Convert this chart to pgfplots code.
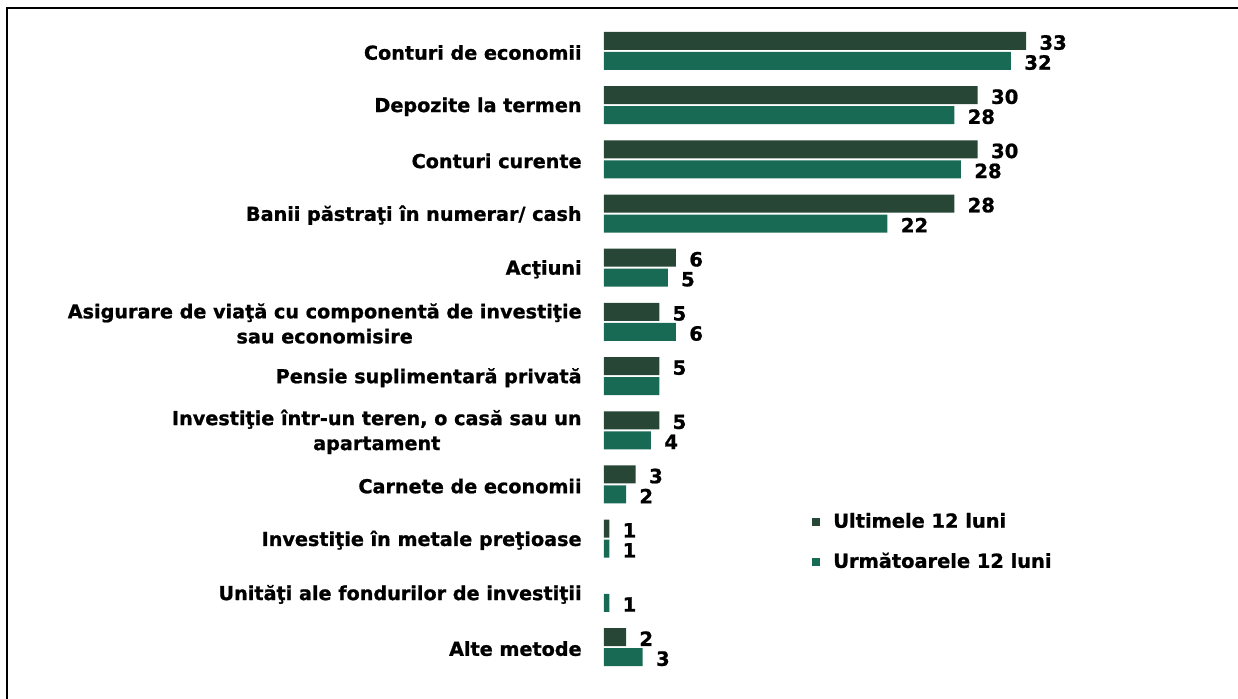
\documentclass[border=0pt]{standalone}
\usepackage{pgfplots}
\pgfplotsset{compat=1.18}
\usepackage{fontspec}
\setmainfont{DejaVu Sans}[BoldFeatures={FakeBold=1}]
\definecolor{darkg}{HTML}{274636}
\definecolor{tealg}{HTML}{186A54}
\newcommand\nl{}
\begin{document}
\begin{tikzpicture}
\useasboundingbox (0,0) rectangle (619pt,349pt);
\begin{axis}[
  at={(302pt,0pt)}, anchor=south west,
  scale only axis, width=315pt, height=349pt,
  xmin=0, xmax=50, ymin=-0.94, ymax=11.94,
  axis line style={draw=none}, tick style={draw=none},
  major tick length=0pt,
  xtick=\empty,
  ytick={0,...,11},
  yticklabels={
    {Alte metode},
    {Unităţi ale fondurilor de investiţii},
    {Investiţie în metale preţioase},
    {Carnete de economii},
    {Investiţie într-un teren, o casă sau un\\apartament},
    {Pensie suplimentară privată},
    {Asigurare de viaţă cu componentă de investiţie\\sau economisire},
    {Acţiuni},
    {Banii păstraţi în numerar/ cash},
    {Conturi curente},
    {Depozite la termen},
    {Conturi de economii}},
  yticklabel style={align=center, anchor=east, inner sep=0pt, xshift=-11pt, yshift=-0.8pt,
    font=\fontsize{9.6}{12.5}\selectfont\bfseries},
  xbar, bar width=9pt,
  point meta=explicit symbolic,
  nodes near coords,
  every node near coord/.append style={anchor=west, inner sep=0pt, xshift=6.5pt, yshift=-0.8pt,
    font=\fontsize{9.8}{11}\selectfont\bfseries, text=black},
  legend style={at={(axis cs:16.5,1.94)}, anchor=west, draw=none, fill=none,
    inner sep=0pt, row sep=7pt, font=\fontsize{9.7}{11}\selectfont\bfseries,
    cells={anchor=west},
    /tikz/every odd column/.append style={column sep=4.5pt}},
]
\addplot[fill=darkg, draw=none, bar shift=5pt, forget plot] coordinates {
  (33.5,11) [33]
  (29.66,10) [30]
  (29.66,9) [30]
  (27.8,8) [28]
  (5.71,7) [6]
  (4.39,6) [5]
  (4.39,5) [5]
  (4.39,4) [5]
  (2.52,3) [3]
  (0.42,2) [1]
  (1.75,0) [2]
};
\addplot[fill=tealg, draw=none, bar shift=-5pt, forget plot] coordinates {
  (32.3,11) [32]
  (27.8,10) [28]
  (28.33,9) [28]
  (22.5,8) [22]
  (5.06,7) [5]
  (5.71,6) [6]
  (4.39,5) [\nl]
  (3.73,4) [4]
  (1.75,3) [2]
  (0.42,2) [1]
  (0.42,1) [1]
  (3.07,0) [3]
};
\addlegendimage{legend image code/.code={\fill[darkg] (0pt,-1.8pt) rectangle (3.6pt,1.8pt);}}
\addlegendentry{Ultimele 12 luni}
\addlegendimage{legend image code/.code={\fill[tealg] (0pt,-1.8pt) rectangle (3.6pt,1.8pt);}}
\addlegendentry{Următoarele 12 luni}
\end{axis}
\draw[line width=1.1pt] (3.6pt,-2pt) -- (3.6pt,345.1pt) -- (622pt,345.1pt);
\end{tikzpicture}
\end{document}
